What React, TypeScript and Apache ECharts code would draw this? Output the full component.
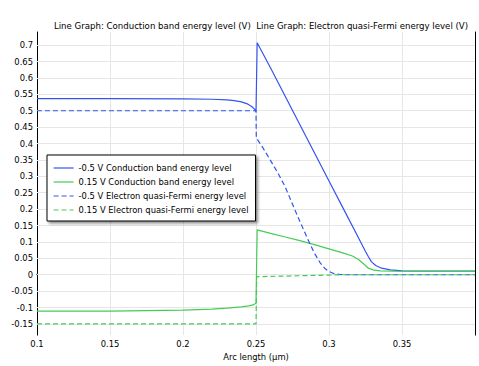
import React, { useEffect, useRef } from "react";
import * as echarts from "echarts";

const titleText = "Line Graph: Conduction band energy level (V)  Line Graph: Electron quasi-Fermi energy level (V)";
const xAxisName = "Arc length (µm)";
const xTicks = [0.1, 0.15, 0.2, 0.25, 0.3, 0.35];
const yTicks = [-0.15, -0.1, -0.05, 0, 0.05, 0.1, 0.15, 0.2, 0.25, 0.3, 0.35, 0.4, 0.45, 0.5, 0.55, 0.6, 0.65, 0.7];

const seriesNames = [
  "-0.5 V Conduction band energy level",
  "0.15 V Conduction band energy level",
  "-0.5 V Electron quasi-Fermi energy level",
  "0.15 V Electron quasi-Fermi energy level",
];

const cbNegX = [0.1, 0.15, 0.2, 0.22, 0.23, 0.235, 0.24, 0.244, 0.247, 0.249, 0.25, 0.2508, 0.26, 0.27, 0.28, 0.29, 0.3, 0.31, 0.32, 0.325, 0.327, 0.329, 0.332, 0.336, 0.342, 0.35, 0.37, 0.4];
const cbNegY = [0.537, 0.537, 0.536, 0.535, 0.533, 0.531, 0.527, 0.521, 0.513, 0.505, 0.497, 0.707, 0.63, 0.544, 0.458, 0.372, 0.286, 0.2, 0.114, 0.071, 0.055, 0.04, 0.028, 0.02, 0.015, 0.012, 0.011, 0.011];

const cbPosX = [0.1, 0.15, 0.2, 0.22, 0.23, 0.24, 0.245, 0.248, 0.25, 0.2508, 0.26, 0.27, 0.28, 0.29, 0.3, 0.31, 0.316, 0.32, 0.324, 0.327, 0.33, 0.335, 0.345, 0.36, 0.4];
const cbPosY = [-0.111, -0.111, -0.108, -0.105, -0.102, -0.098, -0.095, -0.092, -0.087, 0.137, 0.126, 0.115, 0.104, 0.092, 0.079, 0.066, 0.057, 0.047, 0.032, 0.02, 0.015, 0.012, 0.011, 0.01, 0.01];

const qfNegX = [0.1, 0.25, 0.2502, 0.255, 0.26, 0.265, 0.27, 0.275, 0.28, 0.285, 0.29, 0.294, 0.297, 0.3, 0.303, 0.307, 0.312, 0.32, 0.4];
const qfNegY = [0.5, 0.5, 0.418, 0.385, 0.348, 0.31, 0.268, 0.215, 0.163, 0.113, 0.066, 0.036, 0.02, 0.01, 0.004, 0.001, 0.0, 0.0, 0.0];

const qfPosX = [0.1, 0.25, 0.2505, 0.26, 0.27, 0.28, 0.29, 0.3, 0.31, 0.4];
const qfPosY = [-0.15, -0.15, -0.006, -0.005, -0.004, -0.003, -0.002, -0.001, 0, 0];

const BLUE = "#3355ee";
const GREEN = "#44cc55";
const FONT = "DejaVu Sans";
const FS = 8.4;

const zip = (xs: number[], ys: number[]) => xs.map((x, i) => [x, ys[i]]);

export default function App() {
  const ref = useRef<HTMLDivElement>(null);
  useEffect(() => {
    if (!ref.current) return;
    const chart = echarts.init(ref.current, undefined, { renderer: "svg" });
    const xMin = 0.1, xMax = 0.4, yMin = -0.184, yMax = 0.74;
    const fmt = (v: number) => String(Math.round(v * 1000) / 1000);
    const mkSeries = (name: string, xs: number[], ys: number[], color: string, dashed: boolean) => ({
      name,
      type: "line",
      z: 3,
      data: zip(xs, ys),
      symbol: "none",
      lineStyle: { color, width: 1.2, type: dashed ? [5, 3] : "solid" },
      itemStyle: { color },
    });
    const gridLineStyle = { color: "#e6e6e6", width: 1, type: "solid" };
    chart.setOption({
      animation: false,
      textStyle: { fontFamily: FONT },
      title: {
        text: titleText,
        left: 256,
        textAlign: "center",
        top: 16,
        textStyle: { fontSize: 8.6, fontWeight: "normal", color: "#000", fontFamily: FONT },
      },
      grid: { left: 37, right: 4, top: 32, bottom: 23, containLabel: false },
      legend: {
        orient: "vertical",
        left: 47,
        top: 155,
        z: 10,
        data: seriesNames,
        backgroundColor: "#fff",
        borderColor: "#000",
        borderWidth: 1,
        borderRadius: 0,
        padding: [9, 7, 7, 6],
        itemGap: 6,
        itemWidth: 20,
        itemHeight: 10,
        itemStyle: { opacity: 0 },
        lineStyle: { width: 1.2 },
        shadowColor: "rgba(0,0,0,0.45)",
        shadowBlur: 3,
        shadowOffsetX: 2,
        shadowOffsetY: 2,
        textStyle: { fontSize: FS, color: "#000", fontFamily: FONT },
      },
      xAxis: [
        {
          type: "value",
          min: xMin,
          max: xMax,
          interval: 0.05,
          name: xAxisName,
          nameLocation: "middle",
          nameGap: 16,
          nameTextStyle: { fontSize: FS, color: "#000", fontFamily: FONT },
          axisLine: { lineStyle: { color: "#000", width: 1 } },
          axisTick: { inside: true, length: 4, lineStyle: { color: "#000" }, customValues: xTicks },
          axisLabel: { fontSize: FS, color: "#000", margin: 5, formatter: fmt, customValues: xTicks, fontFamily: FONT },
          splitLine: { show: false },
        },
        {
          type: "value",
          position: "top",
          min: xMin,
          max: xMax,
          interval: 0.05,
          axisLine: { lineStyle: { color: "#000", width: 1 } },
          axisTick: { inside: true, length: 4, lineStyle: { color: "#000" }, customValues: xTicks },
          axisLabel: { show: false },
          splitLine: { show: false },
        },
      ],
      yAxis: [
        {
          type: "value",
          min: yMin,
          max: yMax,
          axisLine: { show: true, lineStyle: { color: "#000", width: 1 } },
          axisTick: { show: true, inside: true, length: 4, lineStyle: { color: "#000" }, customValues: yTicks },
          axisLabel: { fontSize: FS, color: "#000", margin: 4, formatter: fmt, customValues: yTicks, fontFamily: FONT },
          splitLine: { show: false },
        },
        {
          type: "value",
          position: "right",
          min: yMin,
          max: yMax,
          axisLine: { show: true, lineStyle: { color: "#000", width: 1 } },
          axisTick: { show: true, inside: true, length: 4, lineStyle: { color: "#000" }, customValues: yTicks },
          axisLabel: { show: false },
          splitLine: { show: false },
        },
      ],
      series: [
        {
          name: "grid",
          type: "line",
          z: 1,
          data: [],
          silent: true,
          markLine: {
            z: 1,
            silent: true,
            symbol: "none",
            label: { show: false },
            lineStyle: gridLineStyle,
            emphasis: { disabled: true },
            data: [
              ...yTicks.map((v) => ({ yAxis: v, lineStyle: gridLineStyle })),
              ...xTicks.slice(1).map((v) => ({ xAxis: v, lineStyle: gridLineStyle })),
            ],
          },
        },
        mkSeries(seriesNames[0], cbNegX, cbNegY, BLUE, false),
        mkSeries(seriesNames[1], cbPosX, cbPosY, GREEN, false),
        mkSeries(seriesNames[2], qfNegX, qfNegY, BLUE, true),
        mkSeries(seriesNames[3], qfPosX, qfPosY, GREEN, true),
      ],
    });
    return () => chart.dispose();
  }, []);
  return <div ref={ref} style={{ width: 479, height: 366, position: "absolute", left: 0, top: 0 }} />;
}
